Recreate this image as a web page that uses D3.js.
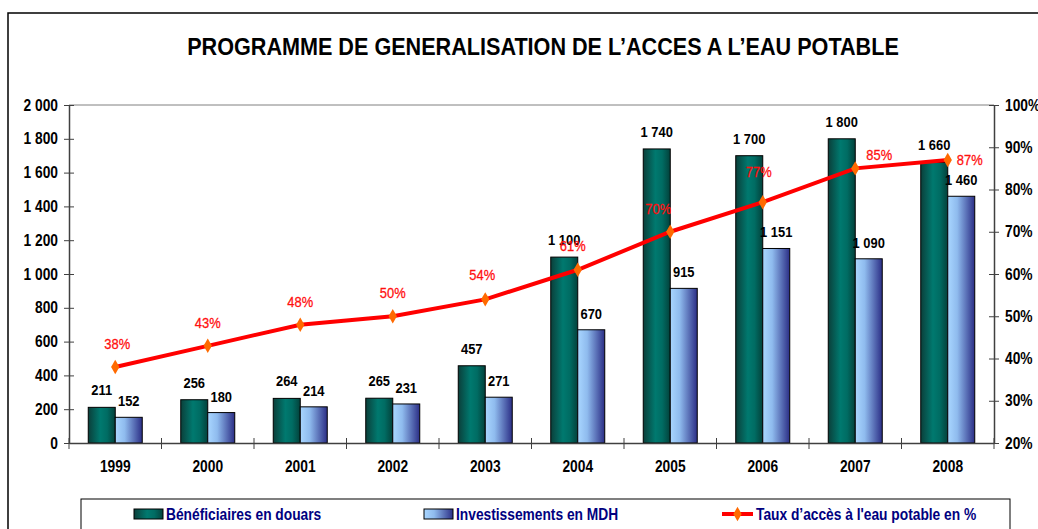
<!DOCTYPE html>
<html><head><meta charset="utf-8">
<script src="https://cdn.jsdelivr.net/npm/d3@7"></script>
<style>
html,body{margin:0;padding:0;background:#fff;}
svg{display:block;}
text{font-family:"Liberation Sans",Arial,sans-serif;}
</style></head>
<body>
<svg id="chart" width="1038" height="529"></svg>
<script>
const title = "PROGRAMME DE GENERALISATION DE L\u2019ACCES A L\u2019EAU POTABLE";
const years = ["1999","2000","2001","2002","2003","2004","2005","2006","2007","2008"];
const beneficiaires = [211,256,264,265,457,1100,1740,1700,1800,1660];
const investissements = [152,180,214,231,271,670,915,1151,1090,1460];
const tauxAcces = [38,43,48,50,54,61,70,77,85,87];
const leftTicks = [0,200,400,600,800,1000,1200,1400,1600,1800,2000];
const rightTicks = [20,30,40,50,60,70,80,90,100];
const seriesNames = ["Bénéficiaires en douars","Investissements en MDH","Taux d\u2019accès à l'eau potable en %"];

const svg = d3.select("#chart");
const L = 69, R = 994, T = 105, B = 443;
const fmt = d3.formatLocale({decimal:",", thousands:"\u00a0", grouping:[3], currency:["",""]}).format(",d");
// label placement offsets (layout only) for percentage labels, relative to the point
const pctLabelOffset = [[2,-18],[0,-18],[0,-18],[0,-18],[-3,-19],[-5,-19],[-12,-18],[-4,-25],[24,-8],[22,5]];

const defs = svg.append("defs");
const g1 = defs.append("linearGradient").attr("id","gGreen").attr("x1","0").attr("x2","1").attr("y1","0").attr("y2","0");
g1.append("stop").attr("offset","0%").attr("stop-color","#0b3f3a");
g1.append("stop").attr("offset","45%").attr("stop-color","#00796f");
g1.append("stop").attr("offset","70%").attr("stop-color","#006c63");
g1.append("stop").attr("offset","100%").attr("stop-color","#03413b");
const g2 = defs.append("linearGradient").attr("id","gBlue").attr("x1","0").attr("x2","1").attr("y1","0").attr("y2","0");
g2.append("stop").attr("offset","0%").attr("stop-color","#a9d6ff");
g2.append("stop").attr("offset","35%").attr("stop-color","#8fbbee");
g2.append("stop").attr("offset","100%").attr("stop-color","#2b2e86");

// outer frame
svg.append("rect").attr("x",8).attr("y",13).attr("width",1100).attr("height",600)
  .attr("fill","none").attr("stroke","#000").attr("stroke-width",1.5);

svg.append("text").attr("class","title").attr("x",543).attr("y",55).attr("text-anchor","middle")
  .attr("font-size",24).attr("font-weight","bold").attr("fill","#000").text(title);

const x = d3.scaleBand().domain(years).range([L,R]).padding(0);
const x1 = d3.scaleBand().domain(["b","i"]).range([0,x.bandwidth()]).paddingInner(0).paddingOuter(0.713);
const y = d3.scaleLinear().domain([0,2000]).range([B,T]);
const y2 = d3.scaleLinear().domain([20,100]).range([B,T]);

// top border
svg.append("line").attr("x1",L).attr("x2",R).attr("y1",T).attr("y2",T).attr("stroke","#808080").attr("stroke-width",1);

// bars
const groups = svg.append("g").selectAll("g").data(years).join("g")
  .attr("transform", d => `translate(${x(d)},0)`);
groups.append("rect").attr("x",x1("b")).attr("width",x1.bandwidth())
  .attr("y",(d,i)=>y(beneficiaires[i])).attr("height",(d,i)=>B-y(beneficiaires[i]))
  .attr("fill","url(#gGreen)").attr("stroke","#000").attr("stroke-width",1);
groups.append("rect").attr("x",x1("i")).attr("width",x1.bandwidth())
  .attr("y",(d,i)=>y(investissements[i])).attr("height",(d,i)=>B-y(investissements[i]))
  .attr("fill","url(#gBlue)").attr("stroke","#000").attr("stroke-width",1);

// axes
const axL = d3.axisLeft(y).tickValues(leftTicks).tickSize(0).tickPadding(11).tickFormat(fmt);
const gl = svg.append("g").attr("transform",`translate(${L},0)`).call(axL);
const axR = d3.axisRight(y2).tickValues(rightTicks).tickSize(0).tickPadding(11).tickFormat(d=>d+"%");
const gr = svg.append("g").attr("transform",`translate(${R},0)`).call(axR);
[gl,gr].forEach(g=>{
  g.select(".domain").attr("stroke","#404040").attr("stroke-width",1.5);
  g.selectAll(".tick text").attr("font-size",16).attr("font-weight","bold").attr("fill","#000")
   .attr("font-family",'"Liberation Sans",Arial,sans-serif');
  g.selectAll(".tick").append("line").attr("x1",-5).attr("x2",5).attr("stroke","#404040").attr("stroke-width",1);
});
// bottom axis
const axB = d3.axisBottom(x).tickSize(0).tickPadding(18);
const gb = svg.append("g").attr("transform",`translate(0,${B})`).call(axB);
gb.select(".domain").attr("stroke","#404040").attr("stroke-width",1.5);
gb.selectAll(".tick text").attr("font-size",16).attr("font-weight","bold").attr("fill","#000")
  .attr("font-family",'"Liberation Sans",Arial,sans-serif');
gb.selectAll(".sep").data(years.concat(["end"])).join("line").attr("class","sep")
  .attr("x1",(d,i)=> i<years.length ? x(d) : R).attr("x2",(d,i)=> i<years.length ? x(d) : R)
  .attr("y1",-5).attr("y2",6).attr("stroke","#404040").attr("stroke-width",1);

// value labels
groups.append("text").attr("x",x1("b")+x1.bandwidth()/2).attr("y",(d,i)=>y(beneficiaires[i])-12)
  .attr("text-anchor","middle").attr("font-size",15).attr("font-weight","bold").attr("fill","#000")
  .text((d,i)=>fmt(beneficiaires[i]));
groups.append("text").attr("x",x1("i")+x1.bandwidth()/2).attr("y",(d,i)=>y(investissements[i])-11)
  .attr("text-anchor","middle").attr("font-size",15).attr("font-weight","bold").attr("fill","#000")
  .text((d,i)=>fmt(investissements[i]));

// line
const cx = d => x(d)+x.bandwidth()/2;
const line = d3.line().x((d,i)=>cx(years[i])).y(d=>y2(d));
svg.append("path").datum(tauxAcces).attr("d",line).attr("fill","none").attr("stroke","#ff0000").attr("stroke-width",4);
const diamond = d3.symbol().type(d3.symbolDiamond).size(60);
svg.append("g").selectAll("path").data(tauxAcces).join("path")
  .attr("d",diamond).attr("transform",(d,i)=>`translate(${cx(years[i])},${y2(d)})`).attr("fill","#ff6a00");
svg.append("g").selectAll("text").data(tauxAcces).join("text")
  .attr("x",(d,i)=>cx(years[i])+pctLabelOffset[i][0]).attr("y",(d,i)=>y2(d)+pctLabelOffset[i][1])
  .attr("text-anchor","middle").attr("font-size",15).attr("fill","#ff1010")
  .attr("stroke","#ff1010").attr("stroke-width",0.3).text(d=>d+"%");

// legend
svg.append("rect").attr("x",81).attr("y",499).attr("width",929).attr("height",60)
  .attr("fill","#fff").attr("stroke","#000").attr("stroke-width",1);
const leg = [{x:134,type:"b"},{x:424,type:"i"},{x:722,type:"l"}];
leg.forEach((l,k)=>{
  if(l.type==="l"){
    svg.append("line").attr("x1",l.x).attr("x2",l.x+31).attr("y1",514).attr("y2",514).attr("stroke","#ff0000").attr("stroke-width",4);
    svg.append("path").attr("d",diamond).attr("transform",`translate(${l.x+15.5},514)`).attr("fill","#ff6a00");
  } else {
    svg.append("rect").attr("x",l.x).attr("y",509).attr("width",29).attr("height",10)
      .attr("fill", l.type==="b"?"url(#gGreen)":"url(#gBlue)").attr("stroke","#000").attr("stroke-width",1);
  }
  svg.append("text").attr("x",l.x+(l.type==="l"?34:32)).attr("y",520).attr("font-size",16).attr("font-weight","bold")
    .attr("fill","#000080").text(seriesNames[k]);
});

// condense all texts to mimic a narrow typeface
svg.selectAll("text").each(function(){
  const f = this.getAttribute("class")==="title" ? 0.9 : 0.86;
  const n = this.getComputedTextLength();
  this.setAttribute("textLength", n*f);
  this.setAttribute("lengthAdjust","spacingAndGlyphs");
});
</script>
</body></html>
